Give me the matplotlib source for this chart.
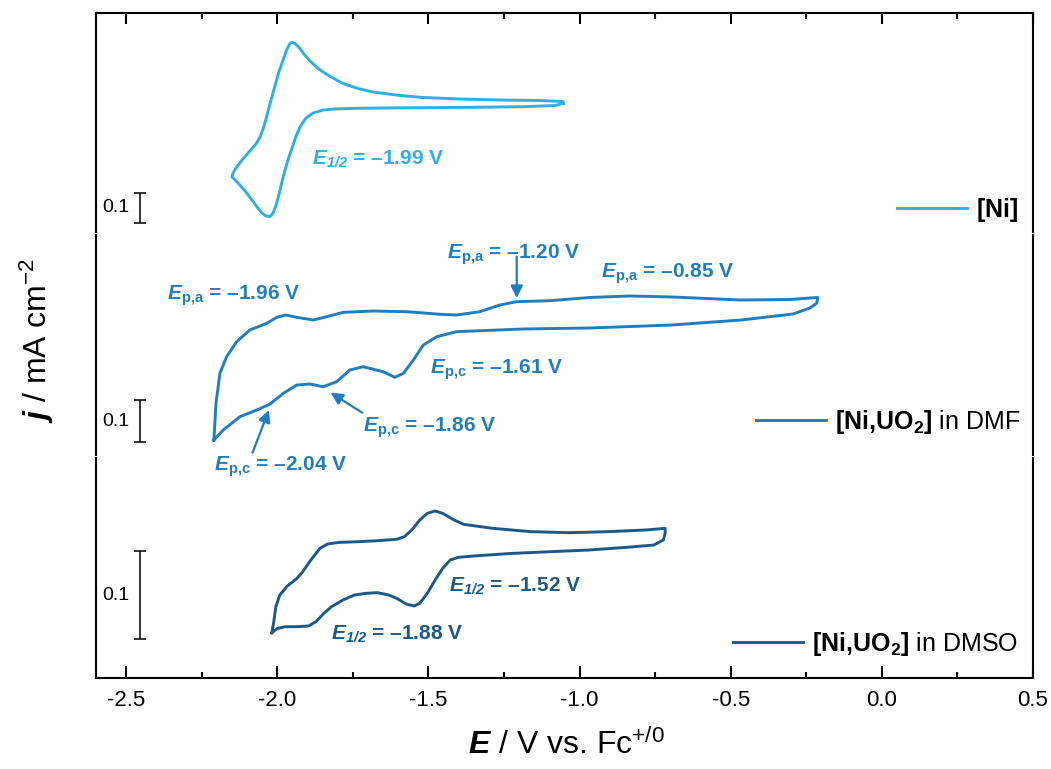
import matplotlib
matplotlib.use("Agg")
import matplotlib.pyplot as plt
import numpy as np

plt.rcParams["font.family"] = ["Liberation Sans", "DejaVu Sans"]
plt.rcParams["mathtext.fontset"] = "custom"
plt.rcParams["mathtext.rm"] = "Liberation Sans"
plt.rcParams["mathtext.it"] = "Liberation Sans:italic"
plt.rcParams["mathtext.bf"] = "Liberation Sans:bold"
plt.rcParams["mathtext.bfit"] = "Liberation Sans:bold:italic"
plt.rcParams["mathtext.sf"] = "Liberation Sans"
plt.rcParams["axes.unicode_minus"] = False

# ---------------- data (E / V vs Fc, j / mA cm-2) ----------------
E_ni = [-1.055, -1.082, -1.188, -1.363, -1.518, -1.661, -1.737, -1.809, -1.849, -1.882,
        -1.905, -1.925, -1.938, -1.948, -1.965, -1.981, -1.995, -2.005, -2.014, -2.024,
        -2.038, -2.051, -2.067, -2.084, -2.104, -2.124, -2.140, -2.150, -2.148, -2.137,
        -2.114, -2.091, -2.071, -2.057, -2.044, -2.034, -2.021, -2.008, -1.995, -1.981,
        -1.968, -1.958, -1.952, -1.942, -1.928, -1.912, -1.892, -1.869, -1.849, -1.816,
        -1.783, -1.733, -1.684, -1.594, -1.518, -1.396, -1.264, -1.131, -1.055, -1.055]
j_ni = [-0.005, -0.0117, -0.0157, -0.0177, -0.019, -0.020, -0.021, -0.0233, -0.0267, -0.0367,
        -0.0533, -0.0833, -0.1133, -0.1433, -0.1933, -0.25, -0.31, -0.3467, -0.37, -0.3817,
        -0.38, -0.37, -0.35, -0.3267, -0.30, -0.2767, -0.26, -0.25, -0.24, -0.22,
        -0.19, -0.1633, -0.14, -0.1167, -0.08, -0.0433, 0.0067, 0.0533, 0.10, 0.14,
        0.1767, 0.195, 0.199, 0.195, 0.1817, 0.16, 0.1367, 0.115, 0.10, 0.08,
        0.0617, 0.045, 0.0333, 0.0217, 0.015, 0.01, 0.0067, 0.005, 0.0017, -0.005]

E_dmf = [-2.210, -2.203, -2.190, -2.168, -2.135, -2.091, -2.035, -2.002, -1.972, -1.936,
         -1.881, -1.837, -1.782, -1.683, -1.572, -1.462, -1.407, -1.330, -1.264, -1.208,
         -1.098, -0.966, -0.834, -0.695, -0.466, -0.304, -0.238, -0.212,
         -0.215, -0.238, -0.294, -0.466, -0.695, -0.966, -1.187, -1.407, -1.473, -1.517,
         -1.550, -1.583, -1.611, -1.650, -1.716, -1.760, -1.804, -1.848, -1.892, -1.936,
         -1.980, -2.024, -2.068, -2.124, -2.179, -2.210]
j_dmf = [-0.2619, -0.1745, -0.1031, -0.0636, -0.0279, 0.0, 0.016, 0.0302, 0.0357, 0.0302,
         0.0238, 0.0317, 0.0421, 0.0452, 0.0436, 0.0374, 0.0357, 0.0436, 0.0595, 0.0674,
         0.0698, 0.0774, 0.081, 0.0786, 0.0714, 0.0726, 0.0762, 0.0774,
         0.0643, 0.0524, 0.0381, 0.0238, 0.0119, 0.0048, 0.0024, -0.004, -0.016, -0.0357,
         -0.0714, -0.1031, -0.1126, -0.0993, -0.0874, -0.0952, -0.1231, -0.135, -0.1286, -0.131,
         -0.1507, -0.1762, -0.1905, -0.2064, -0.2381, -0.2619]

E_dmso = [-2.018, -2.011, -2.005, -1.992, -1.967, -1.935, -1.916, -1.897, -1.885, -1.859,
          -1.834, -1.796, -1.732, -1.669, -1.605, -1.580, -1.555, -1.529, -1.504, -1.478,
          -1.453, -1.415, -1.383, -1.288, -1.161, -1.034, -0.907, -0.780, -0.717,
          -0.717, -0.723, -0.755, -0.844, -0.971, -1.098, -1.225, -1.352, -1.402, -1.428,
          -1.453, -1.478, -1.504, -1.529, -1.548, -1.574, -1.605, -1.631, -1.669, -1.707,
          -1.745, -1.783, -1.821, -1.846, -1.872, -1.897, -1.935, -1.973, -1.999, -2.018]
j_dmso = [-0.0928, -0.0784, -0.0633, -0.05, -0.0398, -0.0311, -0.0235, -0.014, -0.0083, 0.003,
          0.008, 0.0098, 0.0106, 0.0117, 0.0133, 0.0163, 0.0239, 0.0352, 0.0428, 0.0455,
          0.0428, 0.0352, 0.0303, 0.0258, 0.022, 0.0208, 0.022, 0.0239, 0.0258,
          0.0201, 0.0125, 0.0068, 0.0042, 0.0011, -0.0008, -0.0027, -0.0057, -0.0072, -0.0102,
          -0.0197, -0.033, -0.0481, -0.0595, -0.0625, -0.0602, -0.0538, -0.05, -0.0473, -0.0481,
          -0.05, -0.0557, -0.0633, -0.0708, -0.0803, -0.0852, -0.086, -0.086, -0.0879, -0.0928]

labels = [r"$\mathbf{[Ni]}$", r"$\mathbf{[Ni{,}UO_2]}$ in DMF", r"$\mathbf{[Ni{,}UO_2]}$ in DMSO"]
colors = ["#2AB0E6", "#1F7EC0", "#1A5A8A"]
x_ticks = [-2.5, -2.0, -1.5, -1.0, -0.5, 0.0, 0.5]
x_minor = [-2.25, -1.75, -1.25, -0.75, -0.25, 0.25]
scale_bar = 0.1

# ---------------- layout ----------------
W, H = 1051, 769
fig = plt.figure(figsize=(W / 100, H / 100), dpi=100)

def axpos(top_px, bot_px, left_px=96, right_px=1033):
    return [left_px / W, 1 - bot_px / H, (right_px - left_px) / W, (bot_px - top_px) / H]

ax_top = fig.add_axes(axpos(13, 232))
ax_mid = fig.add_axes(axpos(235, 455))
ax_bot = fig.add_axes(axpos(458, 678))
axes = [ax_top, ax_mid, ax_bot]

ylims = [(-0.4333, 0.2967), (-0.2976, 0.2262), (-0.1443, 0.1057)]
series = [(E_ni, j_ni), (E_dmf, j_dmf), (E_dmso, j_dmso)]

for ax, (E, j), c, lab, yl in zip(axes, series, colors, labels, ylims):
    ax.patch.set_visible(False)
    ax.set_xlim(-2.6, 0.5)
    ax.set_ylim(*yl)
    ax.set_yticks([])
    ax.plot(E, j, color=c, lw=2.1, solid_joinstyle="round", label=lab)
    for s in ax.spines.values():
        s.set_linewidth(1.5)
    ax.set_xticks(x_ticks)
    ax.set_xticks(x_minor, minor=True)

# spines / ticks
ax_top.spines["bottom"].set_visible(False)
ax_mid.spines["top"].set_visible(False)
ax_mid.spines["bottom"].set_visible(False)
ax_bot.spines["top"].set_visible(False)

ax_top.tick_params(axis="x", which="both", direction="in", top=True, bottom=False,
                   labeltop=False, labelbottom=False, width=1.5)
ax_top.tick_params(axis="x", which="major", length=8)
ax_top.tick_params(axis="x", which="minor", length=4)
ax_mid.tick_params(axis="x", which="both", top=False, bottom=False,
                   labeltop=False, labelbottom=False)
ax_bot.tick_params(axis="x", which="both", direction="in", top=False, bottom=True,
                   labelbottom=True, width=1.5, labelsize=16, pad=9)
ax_bot.tick_params(axis="x", which="major", length=8.5)
ax_bot.tick_params(axis="x", which="minor", length=4.5)

# scale bars
bar_centers = [-0.3533, -0.2167, -0.05]
for ax, yc in zip(axes, bar_centers):
    ax.errorbar([-2.454], [yc], yerr=[scale_bar / 2], color="black", lw=1.1,
                capsize=4, capthick=1.1, fmt="none")
    ax.text(-2.49, yc, "0.1", ha="right", va="center", fontsize=14)

# legends
leg_pos = [(0.984, 0.10), (0.986, 0.15), (0.984, 0.155)]
for ax, pos in zip(axes, leg_pos):
    ax.legend(loc="center right", bbox_to_anchor=pos, frameon=False, borderpad=0,
              borderaxespad=0, handlelength=2.8, handletextpad=0.35, fontsize=18)

# annotations
fs = 15
ax_top.text(-1.885, -0.21, r"$\mathbfit{E_{1/2}}$ = –1.99 V", color=colors[0],
            fontsize=fs, fontweight="bold", ha="left", va="baseline")

c = colors[1]
ax_mid.text(-2.365, 0.0714, r"$\mathbfit{E}_{\mathbf{p{,}a}}$ = –1.96 V", color=c,
            fontsize=fs, fontweight="bold", ha="left", va="baseline")
ax_mid.text(-1.440, 0.1707, r"$\mathbfit{E}_{\mathbf{p{,}a}}$ = –1.20 V", color=c,
            fontsize=fs, fontweight="bold", ha="left", va="baseline")
ax_mid.text(-0.929, 0.1238, r"$\mathbfit{E}_{\mathbf{p{,}a}}$ = –0.85 V", color=c,
            fontsize=fs, fontweight="bold", ha="left", va="baseline")
ax_mid.text(-1.495, -0.1031, r"$\mathbfit{E}_{\mathbf{p{,}c}}$ = –1.61 V", color=c,
            fontsize=fs, fontweight="bold", ha="left", va="baseline")
ax_mid.text(-1.716, -0.2421, r"$\mathbfit{E}_{\mathbf{p{,}c}}$ = –1.86 V", color=c,
            fontsize=fs, fontweight="bold", ha="left", va="baseline")
ax_mid.text(-2.210, -0.335, r"$\mathbfit{E}_{\mathbf{p{,}c}}$ = –2.04 V", color=c,
            fontsize=fs, fontweight="bold", ha="left", va="baseline", clip_on=False)

arrow_kw = dict(arrowstyle="-|>", color=c, lw=1.6, mutation_scale=18,
                shrinkA=0, shrinkB=0)
ax_mid.annotate("", xy=(-1.208, 0.0762), xytext=(-1.208, 0.1745), arrowprops=arrow_kw)
ax_mid.annotate("", xy=(-1.824, -0.149), xytext=(-1.719, -0.197), arrowprops=arrow_kw)
ax_mid.annotate("", xy=(-2.028, -0.1905), xytext=(-2.082, -0.292), arrowprops=arrow_kw,
                annotation_clip=False)

c = colors[2]
ax_bot.text(-1.432, -0.0462, r"$\mathbfit{E_{1/2}}$ = –1.52 V", color=c,
            fontsize=fs, fontweight="bold", ha="left", va="baseline")
ax_bot.text(-1.822, -0.1011, r"$\mathbfit{E_{1/2}}$ = –1.88 V", color=c,
            fontsize=fs, fontweight="bold", ha="left", va="baseline")

# axis labels
fig.text(566 / W, 1 - 745 / H, r"$\mathbfit{E}$ / V vs. Fc$^{+/0}$", ha="center",
         va="center", fontsize=23)
fig.text(37 / W, 1 - 340 / H, r"$\mathbfit{j}$ / mA cm$^{-2}$", ha="center",
         va="center", fontsize=23, rotation=90)

fig.savefig("out.png", dpi=100)
